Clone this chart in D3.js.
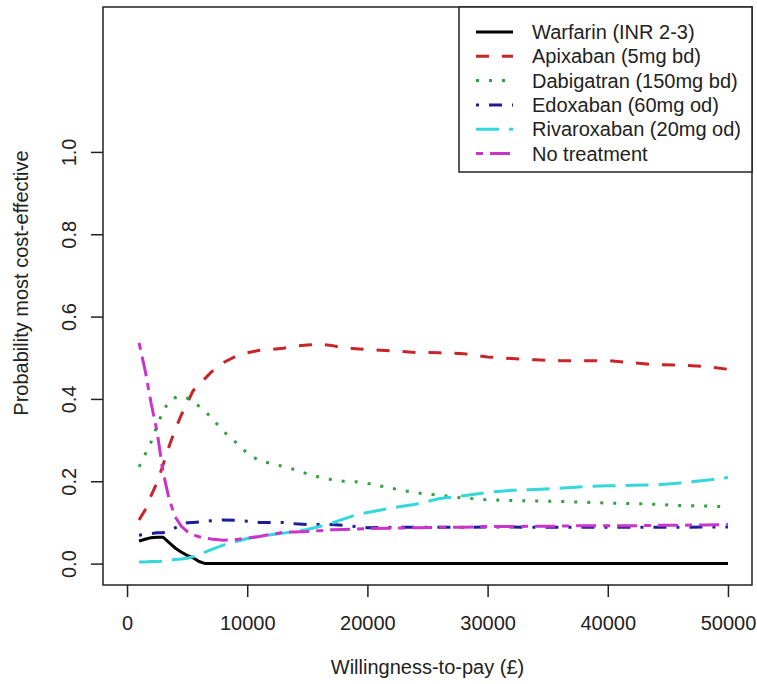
<!DOCTYPE html>
<html>
<head>
<meta charset="utf-8">
<script src="https://cdn.jsdelivr.net/npm/d3@7"></script>
<style>
  body { margin: 0; background: #fff; }
  svg { display: block; font-family: "Liberation Sans", Arial, sans-serif; }
</style>
</head>
<body>
<div id="chart"></div>
<script>
// willingness-to-pay grid (GBP)
const wtp = [1000,1500,2000,2500,3000,3500,4000,4500,5000,5500,6000,6500,7000,8000,9000,10000,
  11000,12000,13000,14000,15000,16000,17000,18000,19000,20000,22000,24000,26000,28000,30000,
  32000,34000,36000,38000,40000,42000,44000,46000,48000,50000];

const warfarin = [0.055,0.059,0.063,0.064,0.064,0.051,0.038,0.028,0.020,0.014,0.005,0.000,0.000,0.000,0.000,0.000,
  0.000,0.000,0.000,0.000,0.000,0.000,0.000,0.000,0.000,0.000,0.000,0.000,0.000,0.000,0.000,
  0.000,0.000,0.000,0.000,0.000,0.000,0.000,0.000,0.000,0.000];
const apixaban = [0.106,0.130,0.165,0.197,0.240,0.285,0.325,0.360,0.390,0.420,0.435,0.450,0.465,0.488,0.503,0.512,
  0.518,0.520,0.523,0.528,0.531,0.533,0.530,0.524,0.522,0.520,0.517,0.513,0.512,0.510,0.502,
  0.498,0.495,0.493,0.493,0.493,0.488,0.483,0.482,0.479,0.472];
const dabigatran = [0.235,0.265,0.295,0.335,0.370,0.395,0.403,0.407,0.402,0.393,0.382,0.370,0.355,0.322,0.296,0.268,
  0.250,0.243,0.236,0.228,0.218,0.210,0.204,0.200,0.199,0.195,0.183,0.172,0.166,0.159,0.155,
  0.153,0.152,0.151,0.149,0.147,0.146,0.144,0.141,0.140,0.138];
const edoxaban = [0.069,0.071,0.073,0.075,0.075,0.080,0.087,0.093,0.099,0.100,0.101,0.102,0.104,0.106,0.105,0.103,
  0.100,0.100,0.100,0.097,0.095,0.095,0.095,0.093,0.090,0.087,0.088,0.088,0.088,0.088,0.089,
  0.089,0.088,0.088,0.088,0.088,0.088,0.088,0.088,0.089,0.089];
const rivaroxaban = [0.004,0.004,0.005,0.005,0.006,0.008,0.010,0.011,0.013,0.017,0.022,0.028,0.034,0.045,0.053,0.061,
  0.066,0.070,0.074,0.078,0.083,0.090,0.098,0.108,0.118,0.124,0.135,0.144,0.158,0.165,0.173,
  0.178,0.180,0.183,0.187,0.189,0.190,0.191,0.196,0.202,0.209];
const noTreatment = [0.536,0.470,0.390,0.320,0.222,0.157,0.114,0.091,0.078,0.070,0.065,0.062,0.060,0.057,0.058,0.062,
  0.066,0.071,0.076,0.077,0.078,0.080,0.082,0.083,0.084,0.085,0.086,0.087,0.088,0.088,0.090,
  0.090,0.091,0.091,0.092,0.092,0.092,0.093,0.093,0.094,0.095];

const seriesNames = ["Warfarin (INR 2-3)", "Apixaban (5mg bd)", "Dabigatran (150mg bd)",
  "Edoxaban (60mg od)", "Rivaroxaban (20mg od)", "No treatment"];
const xTicks = [0, 10000, 20000, 30000, 40000, 50000];
const yTicks = [0, 0.2, 0.4, 0.6, 0.8, 1.0];

const colors = ["#000000", "#c8242a", "#34a040", "#1c1c9c", "#33d8dc", "#cc33cc"];
const dashes = ["none", "13,13", "3,10", "3,10,13,10", "23,10", "7,7,20,7"];

const W = 757, H = 684;
const box = {left: 103, top: 7, right: 752, bottom: 585};
const fontSize = "20px";

const svg = d3.select("#chart").append("svg")
    .attr("width", W)
    .attr("height", H);

// R style 4% padding around the data range
const x = d3.scaleLinear().domain([-2000, 52000]).range([box.left, box.right]);
const y = d3.scaleLinear().domain([-0.052, 1.352]).range([box.bottom, box.top]);

const allSeries = [warfarin, apixaban, dabigatran, edoxaban, rivaroxaban, noTreatment];

const line = d3.line()
    .x((d, i) => x(wtp[i]))
    .y(d => y(d));

// draw in the same order as the legend
svg.append("g").selectAll("path")
  .data(allSeries)
  .enter()
  .append("path")
    .attr("fill", "none")
    .attr("stroke", (d, i) => colors[i])
    .attr("stroke-width", 3)
    .attr("stroke-dasharray", (d, i) => dashes[i])
    .attr("d", line);

// x axis
const xAxis = svg.append("g")
    .attr("transform", `translate(0,${box.bottom})`)
    .call(d3.axisBottom(x).tickValues(xTicks).tickSize(12).tickSizeOuter(0).tickFormat(d3.format("d")));
xAxis.select(".domain").remove();
xAxis.selectAll("line").attr("stroke", "#222").attr("stroke-width", 1.5);
xAxis.selectAll("text")
    .attr("y", 0).attr("dy", 0)
    .attr("transform", "translate(0,45)")
    .attr("fill", "#222")
    .style("font-size", fontSize);

// y axis
const yAxis = svg.append("g")
    .attr("transform", `translate(${box.left},0)`)
    .call(d3.axisLeft(y).tickValues(yTicks).tickSize(12).tickSizeOuter(0).tickFormat(d3.format(".1f")));
yAxis.select(".domain").remove();
yAxis.selectAll("line").attr("stroke", "#222").attr("stroke-width", 1.5);
yAxis.selectAll("text")
    .attr("x", 0).attr("dy", 0)
    .attr("transform", "translate(-27,0) rotate(-90)")
    .attr("text-anchor", "middle")
    .attr("fill", "#222")
    .style("font-size", fontSize);

// plot box
svg.append("rect")
    .attr("x", box.left).attr("y", box.top)
    .attr("width", box.right - box.left)
    .attr("height", box.bottom - box.top)
    .attr("fill", "none")
    .attr("stroke", "#222")
    .attr("stroke-width", 1.5);

// axis titles
svg.append("text")
    .attr("x", (box.left + box.right) / 2)
    .attr("y", 674)
    .attr("text-anchor", "middle")
    .attr("fill", "#222")
    .style("font-size", fontSize)
    .text("Willingness-to-pay (£)");

svg.append("text")
    .attr("transform", "translate(28,283) rotate(-90)")
    .attr("text-anchor", "middle")
    .attr("fill", "#222")
    .style("font-size", fontSize)
    .text("Probability most cost-effective");

// legend
const legend = svg.append("g");
legend.append("rect")
    .attr("x", 459).attr("y", box.top)
    .attr("width", box.right - 459)
    .attr("height", 165)
    .attr("fill", "#fff")
    .attr("stroke", "#222")
    .attr("stroke-width", 1.5);

const rows = legend.selectAll("g.row")
  .data(seriesNames)
  .enter()
  .append("g")
    .attr("class", "row")
    .attr("transform", (d, i) => `translate(0,${32 + i * 24.3})`);

rows.append("line")
    .attr("x1", 476).attr("x2", 513)
    .attr("stroke", (d, i) => colors[i])
    .attr("stroke-width", 3)
    .attr("stroke-dasharray", (d, i) => dashes[i]);

rows.append("text")
    .attr("x", 532)
    .attr("dy", "0.35em")
    .attr("fill", "#222")
    .style("font-size", fontSize)
    .text(d => d);
</script>
</body>
</html>
